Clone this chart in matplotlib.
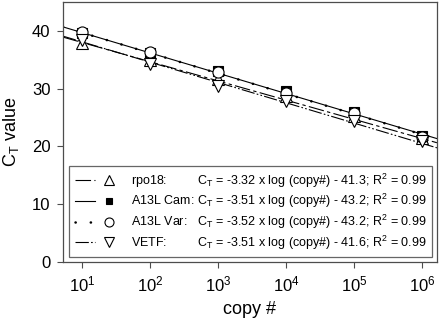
import numpy as np
import matplotlib
matplotlib.use("Agg")
import matplotlib.pyplot as plt
from matplotlib.lines import Line2D
from matplotlib.legend_handler import HandlerTuple
from matplotlib.ticker import LogLocator, NullLocator

plt.rcParams["font.family"] = ["Liberation Sans", "DejaVu Sans"]
plt.rcParams["mathtext.fontset"] = "custom"
plt.rcParams["mathtext.rm"] = "Liberation Sans"
plt.rcParams["mathtext.it"] = "Liberation Sans:italic"
plt.rcParams["mathtext.bf"] = "Liberation Sans:bold"

# ---------------- data ----------------
copies = [1e1, 1e2, 1e3, 1e4, 1e5, 1e6]
ct_rpo18 = [37.9, 35.0, 31.7, 28.7, 25.3, 21.4]
ct_cam = [39.7, 36.2, 33.1, 29.6, 26.0, 21.8]
ct_var = [39.8, 36.4, 32.8, 29.3, 25.8, 21.6]
ct_vetf = [38.4, 34.3, 30.4, 27.8, 24.4, 20.9]

names = ["rpo18:", "A13L Cam:", "A13L Var:", "VETF:"]
slopes = [-3.32, -3.51, -3.52, -3.51]
intercepts = [41.3, 43.2, 43.2, 41.6]
r2 = [0.99, 0.99, 0.99, 0.99]

# ---------------- styles ----------------
line_styles = [
    dict(linestyle=(0, (14, 3, 3, 3)), linewidth=0.8),
    dict(linestyle="-", linewidth=0.8),
    dict(linestyle=(0, (0.1, 6)), linewidth=1.8, dash_capstyle="round"),
    dict(linestyle=(0, (12, 2, 1.5, 2, 1.5, 2)), linewidth=0.8),
]
markers = [
    dict(marker="^", markersize=8, markerfacecolor="white"),
    dict(marker="s", markersize=6.5, markerfacecolor="black"),
    dict(marker="o", markersize=8, markerfacecolor="white"),
    dict(marker="v", markersize=8, markerfacecolor="white"),
]
series = [ct_rpo18, ct_cam, ct_var, ct_vetf]
draw_order = [1, 2, 0, 3]
leg_fs = 9

fig = plt.figure(figsize=(4.4, 3.24), dpi=100)
ax = fig.add_axes([0.143, 0.191, 0.85, 0.803])
ax.set_xscale("log")
ax.set_xlim(5.2, 1.66e6)
ax.set_ylim(0, 45)

# fit lines
x_fit = np.array(ax.get_xlim())
for i in range(4):
    y_fit = intercepts[i] + slopes[i] * np.log10(x_fit)
    ax.plot(x_fit, y_fit, color="black", zorder=2, **line_styles[i])

# data points
for i in draw_order:
    ax.plot(copies, series[i], linestyle="none", color="black",
            markeredgecolor="black", markeredgewidth=0.8, zorder=3 + i,
            **markers[i])

ax.xaxis.set_major_locator(LogLocator(base=10, numticks=10))
ax.xaxis.set_minor_locator(NullLocator())
ax.set_yticks([0, 10, 20, 30, 40])
ax.tick_params(direction="out", length=4, width=0.8, color="0.3",
               labelsize=12, pad=5)
for sp in ax.spines.values():
    sp.set_color("0.3")
    sp.set_linewidth(0.9)

ax.set_xlabel("copy #", fontsize=13, labelpad=5)
ax.set_ylabel(r"$\mathregular{C_T}$ value", fontsize=13, labelpad=8)

# ---------------- legend ----------------
# pad each name so the equations line up in one column
renderer = fig.canvas.get_renderer()


def text_width(s):
    t = fig.text(0, 0, s, fontsize=leg_fs)
    w = t.get_window_extent(renderer).width
    t.remove()
    return w


unit = (text_width(r"$\mathregular{x}\hspace{10}\mathregular{x}$")
        - text_width(r"$\mathregular{xx}$")) / 10
name_w = [text_width(n + r"$\mathregular{x}$") for n in names]
max_w = max(name_w)

labels = []
for n, w, s, b, r in zip(names, name_w, slopes, intercepts, r2):
    gap = (max_w - w) / unit + 0.35
    labels.append(f"{n}$\\hspace{{{gap:.3f}}}\\mathregular{{C_T}}$ = "
                  f"{s:.2f} x log (copy#) - {b:.1f}; R$^2$ = {r:.2f}")

handles = []
for i in range(4):
    ln = Line2D([], [], color="black", **line_styles[i])
    mk = Line2D([], [], linestyle="none", color="black",
                markeredgecolor="black", markeredgewidth=0.8,
                **dict(markers[i], markersize=markers[i]["markersize"] - 1.5))
    handles.append((ln, mk))

leg = ax.legend(handles, labels,
                handler_map={tuple: HandlerTuple(ndivide=2, pad=0.3)},
                loc="lower left", bbox_to_anchor=(0.016, 0.019),
                borderaxespad=0, fontsize=leg_fs, handlelength=3.6,
                handletextpad=0.9, labelspacing=0.19,
                borderpad=0.45, fancybox=False, framealpha=1,
                edgecolor="0.4")
leg.get_frame().set_linewidth(0.9)

fig.savefig("out.png", dpi=100)
